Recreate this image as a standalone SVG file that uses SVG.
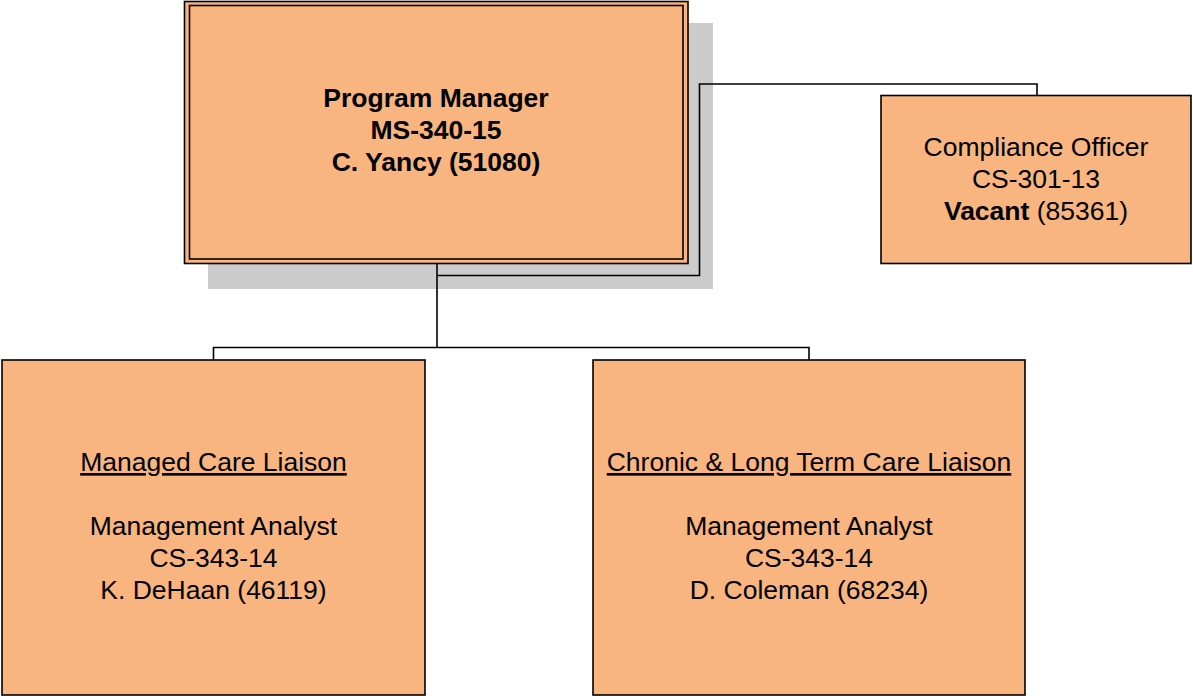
<svg xmlns="http://www.w3.org/2000/svg" width="1193" height="696" viewBox="0 0 1193 696">
<style>
.box{fill:#F8B57F;stroke:#000;stroke-width:1.6}
.shadow{fill:#CCCCCC}
.conn{fill:none;stroke:#000;stroke-width:1.6}
text{font-family:"Liberation Sans",Arial,sans-serif;font-size:26.5px;fill:#000;text-anchor:middle}
.b{font-weight:bold}
.u{text-decoration:underline}
</style>
<rect id="bg" x="0" y="0" width="1193" height="696" fill="#FFFFFF"/>
<g id="pm">
<rect class="shadow" x="208" y="23" width="505" height="266"/>
<rect class="box" x="184.5" y="1.5" width="503.5" height="262"/>
<rect class="box" x="189.5" y="5.5" width="493.5" height="253.5"/>
<text class="b" x="436" y="107">Program Manager</text>
<text class="b" x="436" y="139">MS-340-15</text>
<text class="b" x="436" y="171">C. Yancy (51080)</text>
</g>
<g id="connectors">
<polyline class="conn" points="437,264 437,347.5"/>
<polyline class="conn" points="213.5,360 213.5,347.5 809,347.5 809,360"/>
<polyline class="conn" points="437,275.5 699.5,275.5 699.5,84 1037,84 1037,95"/>
</g>
<g id="compliance">
<rect class="box" x="881" y="95.5" width="310" height="168"/>
<text x="1036" y="156">Compliance Officer</text>
<text x="1036" y="188">CS-301-13</text>
<text x="1036" y="220"><tspan class="b">Vacant</tspan> (85361)</text>
</g>
<g id="managed">
<rect class="box" x="2" y="360" width="423" height="335"/>
<text class="u" x="213.5" y="471">Managed Care Liaison</text>
<text x="213.5" y="535">Management Analyst</text>
<text x="213.5" y="567">CS-343-14</text>
<text x="213.5" y="599">K. DeHaan (46119)</text>
</g>
<g id="chronic">
<rect class="box" x="593" y="360" width="432" height="335"/>
<text class="u" x="809" y="471">Chronic &amp; Long Term Care Liaison</text>
<text x="809" y="535">Management Analyst</text>
<text x="809" y="567">CS-343-14</text>
<text x="809" y="599">D. Coleman (68234)</text>
</g>
</svg>
